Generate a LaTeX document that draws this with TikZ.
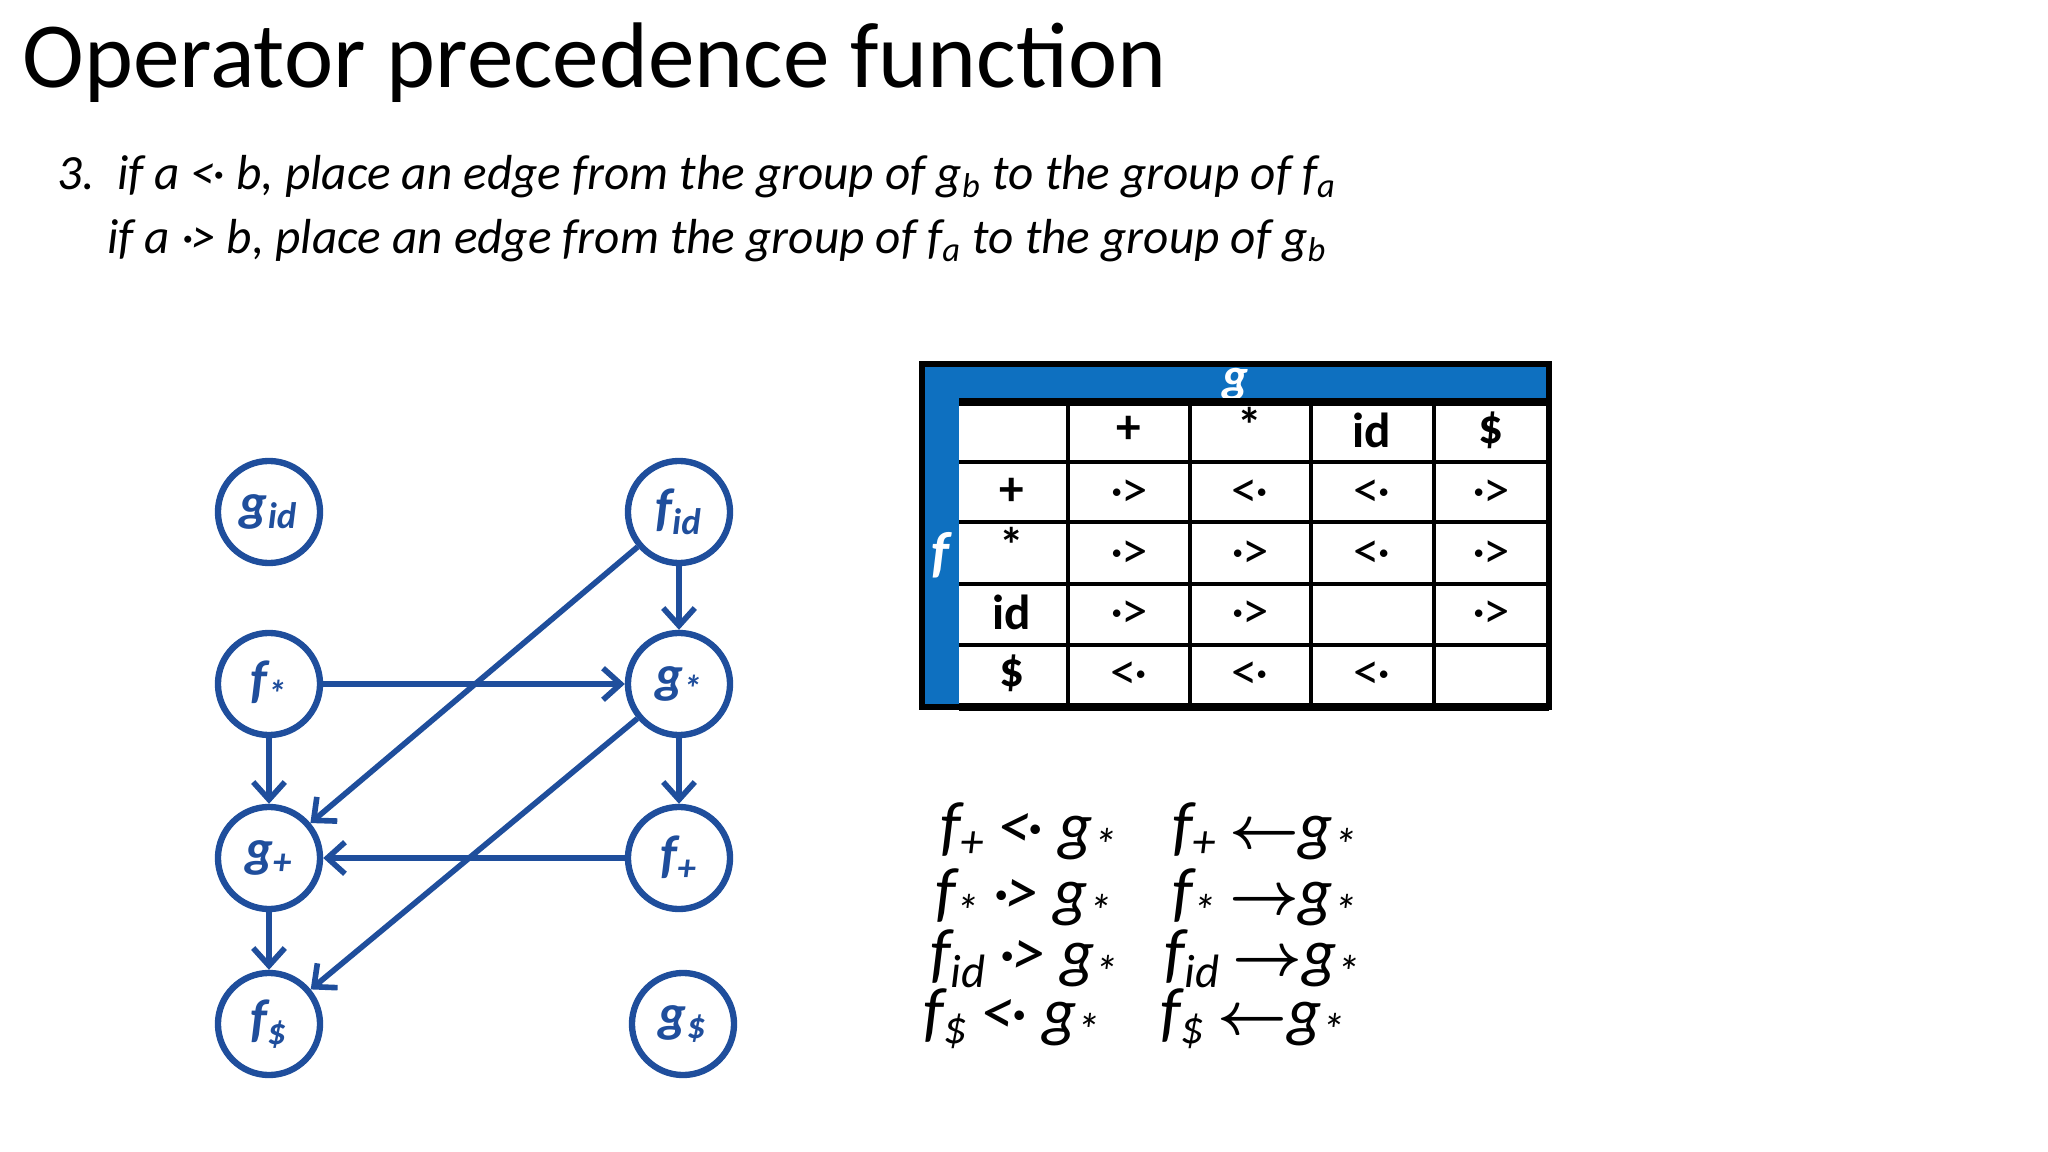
\documentclass[tikz,border=0pt]{standalone}
\usepackage{amsmath}
\usepackage{fontspec}
\setmainfont{Carlito}
\usetikzlibrary{arrows.meta}
\definecolor{nb}{HTML}{1F4E9C}
\definecolor{tb}{HTML}{0E70C0}
\newcommand{\sbs}[1]{\textsubscript{#1}}
\newcommand{\gtd}{·\kern-0.05em>}
\newcommand{\ltd}{<\kern-0.05em·}
\newcommand{\myla}{\mbox{\LARGE$\boldsymbol{\leftarrow}$}}
\newcommand{\myra}{\mbox{\LARGE$\boldsymbol{\rightarrow}$}}
\begin{document}
\begin{tikzpicture}[x=0.01cm,y=-0.01cm,
  st/.style={circle,draw=nb,line width=1.8pt,inner sep=0pt,minimum size=1.02cm,text=nb,font=\fontsize{15}{15}\selectfont\bfseries\itshape},
  ed/.style={draw=nb,line width=1.6pt,-{Straight Barb[length=5pt,width=9pt]}},
  eq/.style={anchor=west,font=\fontsize{19}{19}\selectfont\itshape},
  cell/.style={font=\fontsize{14}{14}\selectfont\bfseries}]
\useasboundingbox (0,0) rectangle (2048,1152);
\node[anchor=base west,font=\fontsize{26.5}{26.5}\selectfont] (title) at (10,88) {Operator precedence function};
\node[anchor=base west,font=\fontsize{14}{14}\selectfont\itshape] (l1) at (45,190) {3.\ \ if a \ltd\ b, place an edge from the group of g\sbs{b} to the group of f\sbs{a}};
\node[anchor=base west,font=\fontsize{14}{14}\selectfont\itshape] (l2) at (95,254) {if a \gtd\ b, place an edge from the group of f\sbs{a} to the group of g\sbs{b}};
% nodes
\node[st] (gid) at (269,512) {g\sbs{id}};
\node[st] (fid) at (679,512) {f\sbs{id}};
\node[st] (fs) at (269,684) {f\sbs{*}};
\node[st] (gs) at (679,684) {g\sbs{*}};
\node[st] (gp) at (269,858) {g\sbs{+}};
\node[st] (fp) at (679,858) {f\sbs{+}};
\node[st] (fd) at (269,1024) {f\sbs{\$}};
\node[st] (gd) at (683,1024) {g\sbs{\$}};
\draw[ed] (fid) -- (gs);
\draw[ed] (fid) -- (gp);
\draw[ed] (fs) -- (gs);
\draw[ed] (fs) -- (gp);
\draw[ed] (gs) -- (fp);
\draw[ed] (gs) -- (fd);
\draw[ed] (fp) -- (gp);
\draw[ed] (gp) -- (fd);
% table
\fill[tb] (922,364) rectangle (1549,402);
\fill[tb] (922,402) rectangle (959,707);
\draw[line width=1.5pt] (922,364) rectangle (1549,707);
\node[text=white,font=\fontsize{14}{14}\selectfont\bfseries\itshape] (tg) at (1235,385) {g};
\node[text=white,font=\fontsize{16}{16}\selectfont\bfseries\itshape] (tf) at (940,555) {f};
\begin{scope}[line width=1.3pt]
\foreach \y in {462,522,584,645} \draw (959,\y) -- (1549,\y);
\foreach \x in {1068,1190,1311,1434} \draw (\x,402) -- (\x,707);
\draw[line width=2pt] (959,402) -- (1549,402);
\draw[line width=2pt] (959,707) -- (1549,707);
\end{scope}
\node[cell] (h1) at (1129,430) {+};
\node[cell] (h2) at (1250,425) {*};
\node[cell] (h3) at (1372,430) {id};
\node[cell] (h4) at (1491,430) {\$};
\node[cell] (r1) at (1012,492) {+};
\node[cell] (r2) at (1012,545) {*};
\node[cell] (r3) at (1012,612) {id};
\node[cell] (r4) at (1012,673) {\$};
\foreach \c/\r/\s in {1129/494/\gtd,1250/494/\ltd,1372/494/\ltd,1491/494/\gtd,
  1129/555/\gtd,1250/555/\gtd,1372/555/\ltd,1491/555/\gtd,
  1129/615/\gtd,1250/615/\gtd,1491/615/\gtd,
  1129/676/\ltd,1250/676/\ltd,1372/676/\ltd}
  \node[font=\fontsize{15}{15}\selectfont] at (\c,\r) {\s};
% equations
\node[eq] (e1) at (928,832) {f\sbs{+}\,\ltd\ g\sbs{*}};
\node[eq] (e2) at (923,898) {f\sbs{*}\,\gtd\ g\sbs{*}};
\node[eq] (e3) at (918,959) {f\sbs{id}\,\gtd\ g\sbs{*}};
\node[eq] (e4) at (911,1019) {f\sbs{\$}\,\ltd\ g\sbs{*}};
\node[eq] (e5) at (1160,832) {f\sbs{+}\,\myla g\sbs{*}};
\node[eq] (e6) at (1160,898) {f\sbs{*}\,\myra g\sbs{*}};
\node[eq] (e7) at (1152,959) {f\sbs{id}\,\myra g\sbs{*}};
\node[eq] (e8) at (1148,1019) {f\sbs{\$}\,\myla g\sbs{*}};
\end{tikzpicture}
\end{document}
